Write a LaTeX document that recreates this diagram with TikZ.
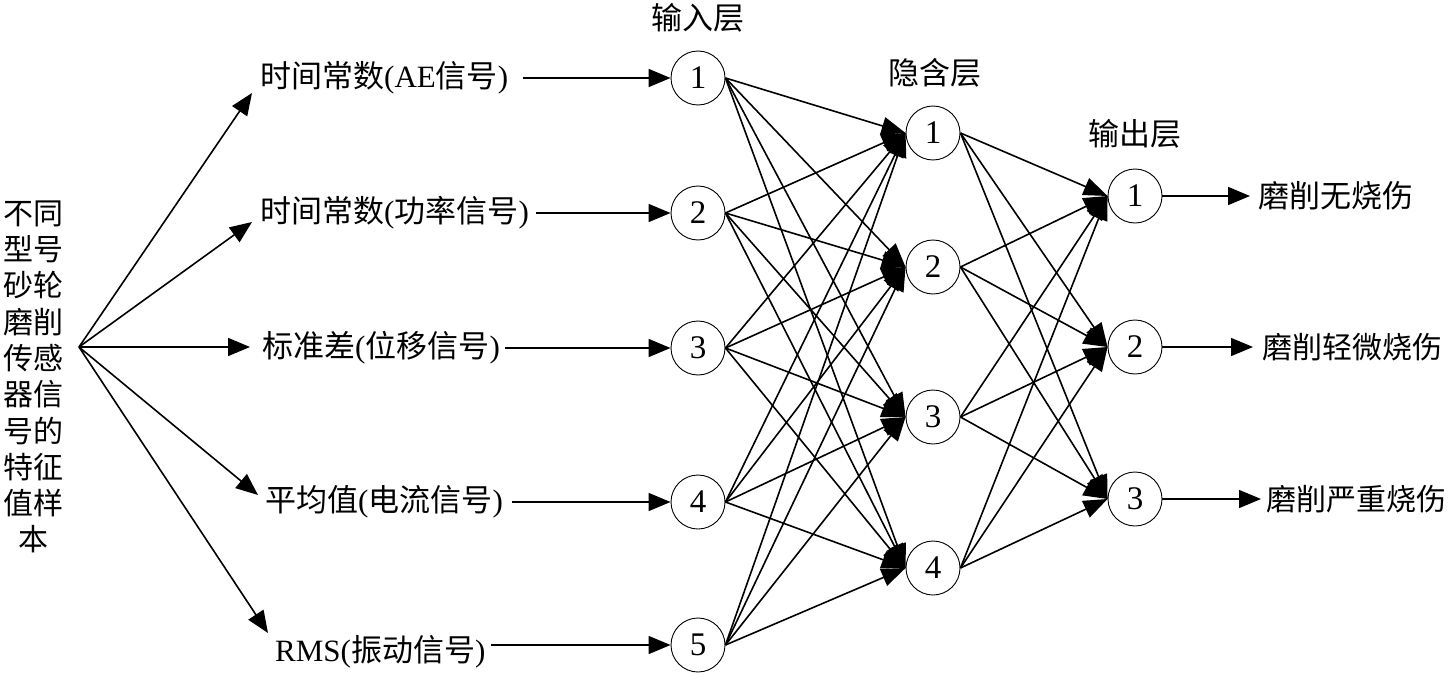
\documentclass[tikz,border=0pt]{standalone}
\usepackage{fontspec}
\setmainfont{Liberation Serif}
\newfontfamily\cjk{Noto Sans CJK SC}
\newcommand{\zhs}[1]{{\cjk #1}}
\usetikzlibrary{arrows.meta,calc}
\begin{document}
\begin{tikzpicture}[x=1pt,y=-1pt,
  neuron/.style={circle,draw,line width=0.9pt,minimum size=54pt,inner sep=0pt,font=\fontsize{33}{33}\selectfont},
  lbl/.style={inner sep=0pt,font=\fontsize{31}{36}\selectfont},
  arr/.style={line width=1.6pt,-{Triangle[length=22pt,width=18pt]}},
  conn/.style={line width=1.6pt,-{Triangle[length=24pt,width=18pt]}}]
\useasboundingbox (0,0) rectangle (1450,674);

% neurons
\node[neuron] (i1) at (698,78) {1};
\node[neuron] (i2) at (698,213) {2};
\node[neuron] (i3) at (698,348) {3};
\node[neuron] (i4) at (698,502) {4};
\node[neuron] (i5) at (698,645) {5};
\node[neuron] (h1) at (933,133) {1};
\node[neuron] (h2) at (933,267) {2};
\node[neuron] (h3) at (933,417) {3};
\node[neuron] (h4) at (933,568) {4};
\node[neuron] (o1) at (1135,196) {1};
\node[neuron] (o2) at (1135,347) {2};
\node[neuron] (o3) at (1135,499) {3};

% layer titles
\node[lbl] (tin) at (698,18) {\zhs{输入层}};
\node[lbl] (thid) at (935,73) {\zhs{隐含层}};
\node[lbl] (tout) at (1135,134) {\zhs{输出层}};

% connections
\foreach \i in {1,...,5}
  \foreach \j in {1,...,4}
    \draw[conn] (i\i.east) -- (h\j.west);
\foreach \j in {1,...,4}
  \foreach \k in {1,2,3}
    \draw[conn] (h\j.east) -- (o\k.west);

% input labels
\node[lbl,anchor=west] (l1) at (260,78) {\zhs{时间常数}(AE\zhs{信号})};
\node[lbl,anchor=west] (l2) at (260,213) {\zhs{时间常数}(\zhs{功率信号})};
\node[lbl,anchor=west] (l3) at (262,348) {\zhs{标准差}(\zhs{位移信号})};
\node[lbl,anchor=west] (l4) at (265,502) {\zhs{平均值}(\zhs{电流信号})};
\node[lbl,anchor=west] (l5) at (275,652) {RMS(\zhs{振动信号})};

\draw[arr,shorten <=15pt] (l1.east |- i1.west) -- (i1.west);
\draw[arr,shorten <=7pt] (l2.east |- i2.west) -- (i2.west);
\draw[arr,shorten <=5pt] (l3.east |- i3.west) -- (i3.west);
\draw[arr,shorten <=9pt] (l4.east |- i4.west) -- (i4.west);
\draw[arr,shorten <=5pt] (l5.east |- i5.west) -- (i5.west);

% left sample text and fan-out
\node[lbl,align=center,font=\fontsize{30}{36.3}\selectfont\cjk] (samp) at (33,377)
  {不同\\型号\\砂轮\\磨削\\传感\\器信\\号的\\特征\\值样\\本};
\coordinate (src) at (79,347);
\coordinate (t1) at (252,93);
\coordinate (t2) at (252,222);
\coordinate (t3) at (250,347);
\coordinate (t4) at (258,495);
\coordinate (t5) at (268,633);
\foreach \n in {1,...,5}
  \draw[arr] (src) -- (t\n);

% output labels
\node[lbl,anchor=west] (r1) at (1258,196) {\zhs{磨削无烧伤}};
\node[lbl,anchor=west,font=\fontsize{30}{36}\selectfont] (r2) at (1262,347) {\zhs{磨削轻微烧伤}};
\node[lbl,anchor=west,font=\fontsize{30}{36}\selectfont] (r3) at (1266,499) {\zhs{磨削严重烧伤}};
\draw[arr,shorten >=8pt] (o1.east) -- (r1.west);
\draw[arr,shorten >=9pt] (o2.east) -- (r2.west);
\draw[arr,shorten >=5pt] (o3.east) -- (r3.west);
\end{tikzpicture}
\end{document}
